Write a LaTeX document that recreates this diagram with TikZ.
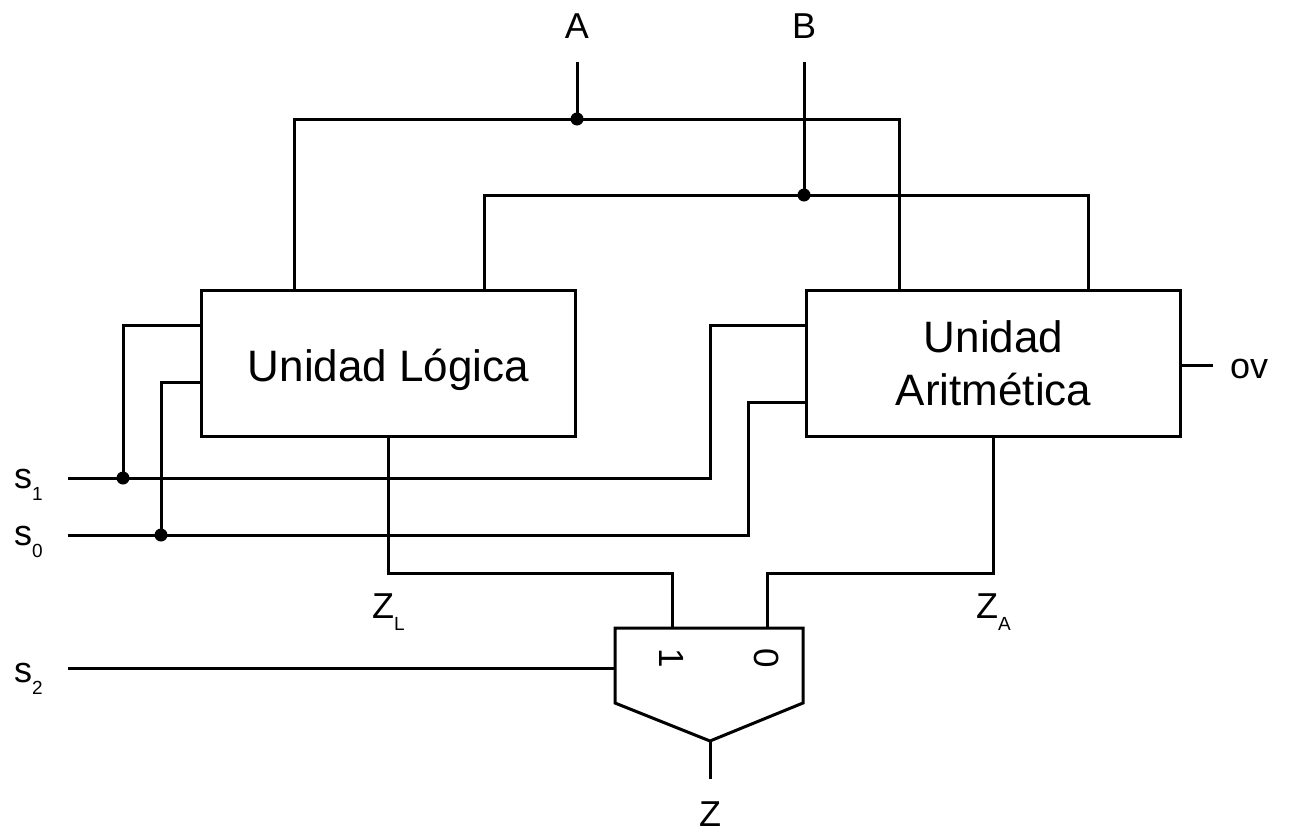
\documentclass[tikz,border=0pt]{standalone}
\usepackage{fontspec}
\setmainfont{Liberation Sans}
\newcommand\mysub[1]{\raisebox{-12pt}{\fontsize{19}{19}\selectfont #1}}
\begin{document}
\begin{tikzpicture}[x=1pt,y=-1pt,
  wire/.style={line width=3pt},
  jdot/.style={circle,fill,inner sep=0pt,minimum size=13pt},
  lbl/.style={inner sep=0pt,font=\fontsize{36}{42}\selectfont},
  box/.style={draw,line width=3pt,minimum width=374pt,minimum height=146pt,inner sep=0pt,font=\fontsize{44}{53}\selectfont,align=center},
  digit/.style={inner sep=0pt,font=\fontsize{35}{40}\selectfont,rotate=-90}]
\useasboundingbox (0,0) rectangle (1302,835);
% units
\node[box] (lu) at (388.5,363.5) {\raisebox{-6pt}[\height][\depth]{Unidad Lógica}};
\node[box] (au) at (993.5,363.5) {Unidad\\Aritmética};
% labels
\node[lbl,anchor=base] (A) at (577,38) {A};
\node[lbl,anchor=base] (B) at (804,38) {B};
\node[lbl,anchor=base west] (s1) at (14,488) {s\mysub{1}};
\node[lbl,anchor=base west] (s0) at (14,545) {s\mysub{0}};
\node[lbl,anchor=base west] (s2) at (14,682) {s\mysub{2}};
\node[lbl,anchor=base west] (ZL) at (372,618) {Z\mysub{L}};
\node[lbl,anchor=base west] (ZA) at (976,618) {Z\mysub{A}};
\node[lbl,anchor=base] (Z) at (710,826) {Z};
\node[lbl,anchor=base west] (ov) at (1230,378) {ov};
% coordinates
\coordinate (Aend) at (577,62);
\coordinate (Bend) at (804,62);
\coordinate (jA) at (577,119);
\coordinate (jB) at (804,195);
\coordinate (luA) at (294,289);
\coordinate (luB) at (484,289);
\coordinate (auA) at (899,289);
\coordinate (auB) at (1088,289);
\coordinate (lu1) at (200,325);
\coordinate (lu0) at (200,382);
\coordinate (au1) at (805,325);
\coordinate (au0) at (805,402);
\coordinate (s1s) at (68,478);
\coordinate (s0s) at (68,535);
\coordinate (s2s) at (68,668);
\coordinate (j1) at (123,478);
\coordinate (j0) at (161,535);
\coordinate (t1) at (710,478);
\coordinate (t0) at (748,535);
\coordinate (luO) at (388,438);
\coordinate (auO) at (993,438);
\coordinate (m1) at (672,628);
\coordinate (m0) at (767,628);
\coordinate (mtl) at (615,628);
\coordinate (mtr) at (803,628);
\coordinate (mbr) at (803,703);
\coordinate (mbl) at (615,703);
\coordinate (mout) at (710,741);
\coordinate (mS) at (615,668);
\coordinate (zend) at (710,779);
\coordinate (ovO) at (1182,365);
\coordinate (ovE) at (1213,365);
% wires
\draw[wire] (Aend) -- (jA);
\draw[wire] (luA) |- (jA) -| (auA);
\draw[wire] (Bend) -- (jB);
\draw[wire] (luB) |- (jB) -| (auB);
\draw[wire] (lu1) -| (j1);
\draw[wire] (lu0) -| (j0);
\draw[wire] (s1s) -- (t1) |- (au1);
\draw[wire] (s0s) -- (t0) |- (au0);
\draw[wire] (s2s) -- (mS);
\draw[wire] (luO) |- (672,573) -- (m1);
\draw[wire] (auO) |- (767,573) -- (m0);
\draw[wire] (ovO) -- (ovE);
% mux
\draw[wire,line join=miter] (mtl) -- (mtr) -- (mbr) -- (mout) -- (mbl) -- cycle;
\draw[wire] (mout) -- (zend);
\node[digit] (d1) at (672,658) {1};
\node[digit] (d0) at (767,658) {0};
% dots
\node[jdot] at (jA) {};
\node[jdot] at (jB) {};
\node[jdot] at (j1) {};
\node[jdot] at (j0) {};
\end{tikzpicture}
\end{document}
